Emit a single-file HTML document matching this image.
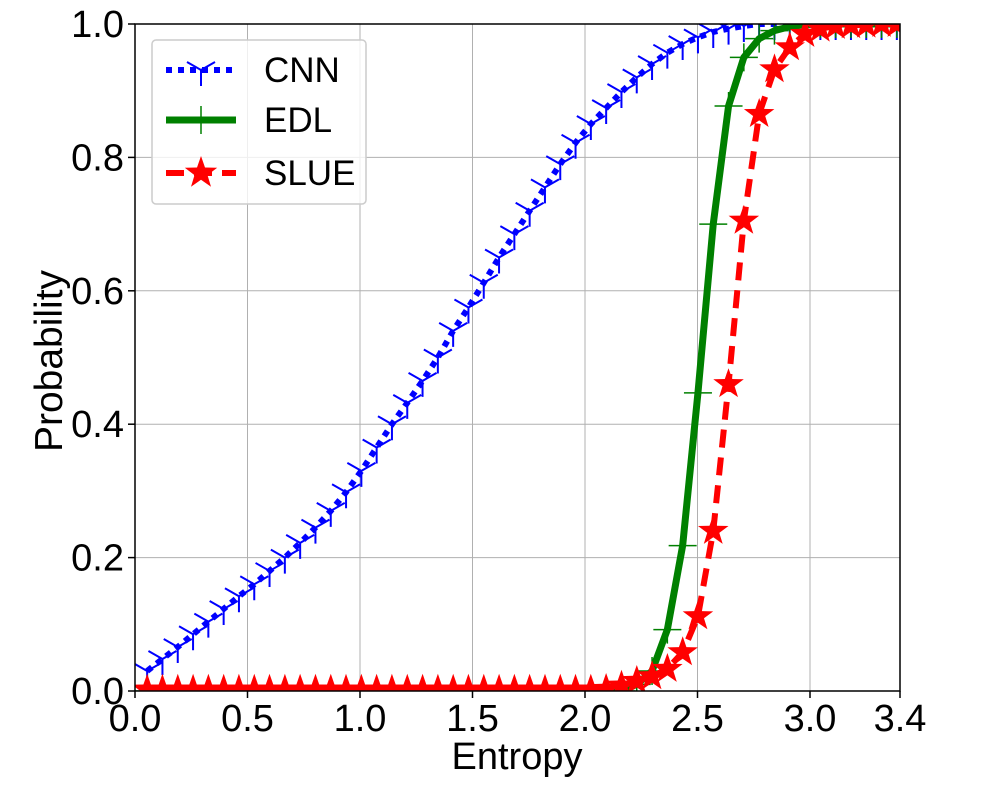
<!DOCTYPE html>
<html><head><meta charset="utf-8"><style>
body{margin:0;background:#fff}
svg text{font-family:"Liberation Sans",sans-serif;fill:#000}
</style></head><body>
<svg id="chart" width="1000" height="800" xmlns="http://www.w3.org/2000/svg">
<defs><clipPath id="clip"><rect x="135" y="24" width="765" height="667"/></clipPath></defs>
<g id="grid"></g>
<g id="series" clip-path="url(#clip)"></g>
<rect x="135" y="24" width="765" height="667" fill="none" stroke="#000" stroke-width="1.5"/>
<g id="ticks"></g>
<text x="517" y="769" font-size="38" text-anchor="middle">Entropy</text>
<text x="62" y="361" font-size="39" text-anchor="middle" transform="rotate(-90 62 361)">Probability</text>
<g>
<rect x="152" y="40" width="214" height="164" rx="4" fill="#fff" fill-opacity="0.8" stroke="#ccc" stroke-width="1.5"/>
<g>
<line x1="166" y1="70" x2="236" y2="70" stroke="#0000ff" stroke-width="6" stroke-dasharray="6,6"/>
<path d="M201,70 L201,86 M201,70 L187,62 M201,70 L215,62" stroke="#0000ff" stroke-width="2" fill="none"/>
<text x="264" y="82" font-size="35">CNN</text></g>
<g>
<line x1="166" y1="120" x2="236" y2="120" stroke="#008000" stroke-width="7"/>
<path d="M187,120 L215,120 M201,106 L201,134" stroke="#008000" stroke-width="1.5"/>
<text x="264" y="132" font-size="35">EDL</text></g>
<g>
<line x1="166" y1="173" x2="236" y2="173" stroke="#ff0000" stroke-width="6" stroke-dasharray="18,10"/>
<g id="legstar"></g>
<text x="264" y="185" font-size="35">SLUE</text></g>
</g>
</svg>
<script>
const xs=[0.054,0.122,0.19,0.258,0.326,0.394,0.462,0.53,0.598,0.666,0.734,0.802,0.87,0.938,1.006,1.074,1.142,1.21,1.278,1.346,1.414,1.482,1.55,1.618,1.686,1.754,1.822,1.89,1.958,2.026,2.094,2.162,2.23,2.298,2.366,2.434,2.502,2.57,2.638,2.706,2.774,2.842,2.91,2.978,3.046,3.114,3.182,3.25,3.318,3.386];
const cnn=[0.03,0.048,0.066,0.085,0.104,0.123,0.142,0.16,0.18,0.2,0.222,0.245,0.27,0.298,0.33,0.365,0.4,0.432,0.465,0.5,0.54,0.575,0.612,0.65,0.685,0.72,0.755,0.79,0.822,0.85,0.874,0.898,0.92,0.94,0.957,0.97,0.98,0.988,0.993,0.997,1,1,1,1,1,1,1,1,1,1];
const edl=[0,0,0,0,0,0,0,0,0,0,0,0,0,0,0,0,0,0,0,0,0,0,0,0,0,0,0,0,0,0,0,0,0.01,0.03,0.092,0.218,0.447,0.70,0.877,0.95,0.978,0.99,0.996,0.999,1,1,1,1,1,1];
const slue=[0.002,0.002,0.002,0.002,0.002,0.002,0.002,0.002,0.002,0.002,0.002,0.002,0.002,0.002,0.002,0.002,0.002,0.002,0.002,0.002,0.002,0.002,0.002,0.002,0.002,0.002,0.002,0.002,0.002,0.002,0.003,0.008,0.015,0.022,0.033,0.058,0.112,0.24,0.46,0.705,0.865,0.932,0.965,0.985,0.993,0.997,0.998,0.999,1,1];
const xTicks=[0,0.5,1.0,1.5,2.0,2.5,3.0,3.4];
const yTicks=[0,0.2,0.4,0.6,0.8,1.0];
const X=v=>135+v*765/3.4, Y=v=>691-v*667;
const NS="http://www.w3.org/2000/svg";
function mk(tag,attrs,parent){const e=document.createElementNS(NS,tag);for(const k in attrs)e.setAttribute(k,attrs[k]);parent.appendChild(e);return e;}
const grid=document.getElementById('grid'),ticks=document.getElementById('ticks'),ser=document.getElementById('series');
xTicks.forEach(t=>{
 const g=mk('line',{x1:X(t),x2:X(t),y1:24,y2:691,stroke:'#b0b0b0','stroke-width':1},grid);
 
 
 mk('line',{x1:X(t),x2:X(t),y1:691,y2:698,stroke:'#000','stroke-width':1.5},ticks);
 const tx=mk('text',{x:X(t),y:731,'font-size':38,'text-anchor':'middle'},ticks);
 tx.textContent=t.toFixed(1);
 
 
});
yTicks.forEach(t=>{
 const g=mk('line',{x1:135,x2:900,y1:Y(t),y2:Y(t),stroke:'#b0b0b0','stroke-width':1},grid);
 
 
 mk('line',{x1:128,x2:135,y1:Y(t),y2:Y(t),stroke:'#000','stroke-width':1.5},ticks);
 const tx=mk('text',{x:124,y:Y(t)+13,'font-size':38,'text-anchor':'end'},ticks);
 tx.textContent=t.toFixed(1);
 
 
});
function pts(arr){return xs.map((x,i)=>X(x)+','+Y(arr[i])).join(' ');}
function star(cx,cy,R){let p=[];for(let i=0;i<10;i++){const r=i%2?R*0.4:R;const a=-Math.PI/2+i*Math.PI/5;p.push((cx+r*Math.cos(a)).toFixed(1)+','+(cy+r*Math.sin(a)).toFixed(1));}return p.join(' ');}
const lc=mk('polyline',{points:pts(cnn),fill:'none',stroke:'#0000ff','stroke-width':6,'stroke-dasharray':'6,6'},ser);


cnn.forEach((v,i)=>{const x=X(xs[i]),y=Y(v);
 const m=mk('path',{d:`M${x},${y} L${x},${y+16} M${x},${y} L${x-14},${y-8} M${x},${y} L${x+14},${y-8}`,stroke:'#0000ff','stroke-width':2,fill:'none'},ser);
 
 });
const le=mk('polyline',{points:pts(edl),fill:'none',stroke:'#008000','stroke-width':7,'stroke-linejoin':'round'},ser);


edl.forEach((v,i)=>{const x=X(xs[i]),y=Y(v);
 const m=mk('path',{d:`M${x-14},${y} L${x+14},${y} M${x},${y-14} L${x},${y+14}`,stroke:'#008000','stroke-width':1.5},ser);
 
 });
const ls=mk('polyline',{points:pts(slue),fill:'none',stroke:'#ff0000','stroke-width':6,'stroke-dasharray':'18,10'},ser);


slue.forEach((v,i)=>{
 const m=mk('polygon',{points:star(X(xs[i]),Y(v),16),fill:'#ff0000'},ser);
 
 });
mk('polygon',{points:star(201,173,17),fill:'#ff0000'},document.getElementById('legstar'));
</script>
</body></html>
